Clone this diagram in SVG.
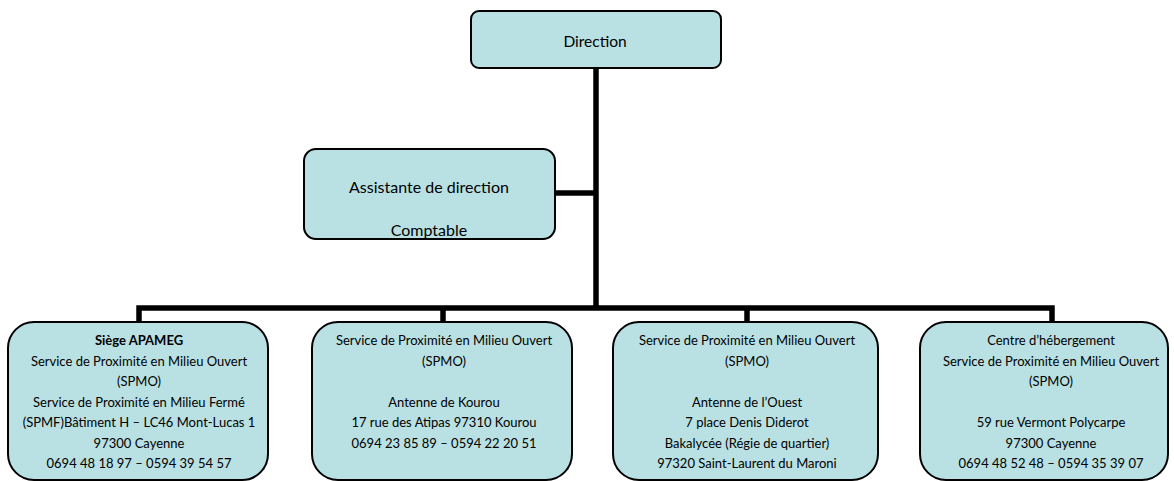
<svg xmlns="http://www.w3.org/2000/svg" width="1174" height="481" viewBox="0 0 1174 481">
<style>
.box{fill:#b9e0e3;stroke:#000;stroke-width:2}
.t{font-family:Lato,"Liberation Sans",sans-serif;font-size:13px;fill:#000;text-anchor:middle}
.big{font-size:16px}
.dir{font-size:15.5px}
.b{font-weight:bold}
.c{stroke:#000;stroke-width:5.5;fill:none}
</style>
<defs>
<clipPath id="clipA"><rect x="305" y="150" width="249" height="88" rx="11"/></clipPath>
</defs>
<rect width="1174" height="481" fill="#fff"/>
<g id="connectors">
<line class="c" x1="596" y1="68" x2="596" y2="310"/>
<line class="c" x1="555" y1="193" x2="596" y2="193"/>
<polyline class="c" points="139,322 139,308 1052,308 1052,322"/>
<line class="c" x1="443" y1="308" x2="443" y2="322"/>
<line class="c" x1="747" y1="308" x2="747" y2="322"/>
</g>
<g id="direction">
<rect class="box" x="471" y="11" width="250" height="57" rx="8"/>
<text class="t dir" x="595" y="47">Direction</text>
</g>
<g id="assistante">
<rect class="box" x="304" y="149" width="251" height="90" rx="12"/>
<g clip-path="url(#clipA)">
<text class="t big" x="429" y="193">Assistante de direction</text>
<text class="t big" x="429" y="236">Comptable</text>
</g>
</g>
<g id="siege">
<rect class="box" x="8" y="322" width="260" height="158" rx="26"/>
<text class="t b" x="139" y="345">Siège APAMEG</text>
<text class="t" x="139" y="365.5">Service de Proximité en Milieu Ouvert</text>
<text class="t" x="139" y="386">(SPMO)</text>
<text class="t" x="139" y="406.5">Service de Proximité en Milieu Fermé</text>
<text class="t" x="139" y="427">(SPMF)Bâtiment H – LC46 Mont-Lucas 1</text>
<text class="t" x="139" y="447.5">97300 Cayenne</text>
<text class="t" x="139" y="468">0694 48 18 97 – 0594 39 54 57</text>
</g>
<g id="kourou">
<rect class="box" x="312" y="322" width="260" height="158" rx="26"/>
<text class="t" x="444" y="345">Service de Proximité en Milieu Ouvert</text>
<text class="t" x="444" y="365.5">(SPMO)</text>
<text class="t" x="444" y="406.5">Antenne de Kourou</text>
<text class="t" x="444" y="427">17 rue des Atipas 97310 Kourou</text>
<text class="t" x="444" y="447.5">0694 23 85 89 – 0594 22 20 51</text>
</g>
<g id="ouest">
<rect class="box" x="613" y="322" width="265" height="158" rx="26"/>
<text class="t" x="747" y="345">Service de Proximité en Milieu Ouvert</text>
<text class="t" x="747" y="365.5">(SPMO)</text>
<text class="t" x="747" y="406.5">Antenne de l’Ouest</text>
<text class="t" x="747" y="427">7 place Denis Diderot</text>
<text class="t" x="747" y="447.5">Bakalycée (Régie de quartier)</text>
<text class="t" x="747" y="468">97320 Saint-Laurent du Maroni</text>
</g>
<g id="hebergement">
<rect class="box" x="920" y="322" width="248" height="158" rx="26"/>
<text class="t" x="1051" y="345">Centre d’hébergement</text>
<text class="t" x="1051" y="365.5">Service de Proximité en Milieu Ouvert</text>
<text class="t" x="1051" y="386">(SPMO)</text>
<text class="t" x="1051" y="427">59 rue Vermont Polycarpe</text>
<text class="t" x="1051" y="447.5">97300 Cayenne</text>
<text class="t" x="1051" y="468">0694 48 52 48 – 0594 35 39 07</text>
</g>
</svg>
